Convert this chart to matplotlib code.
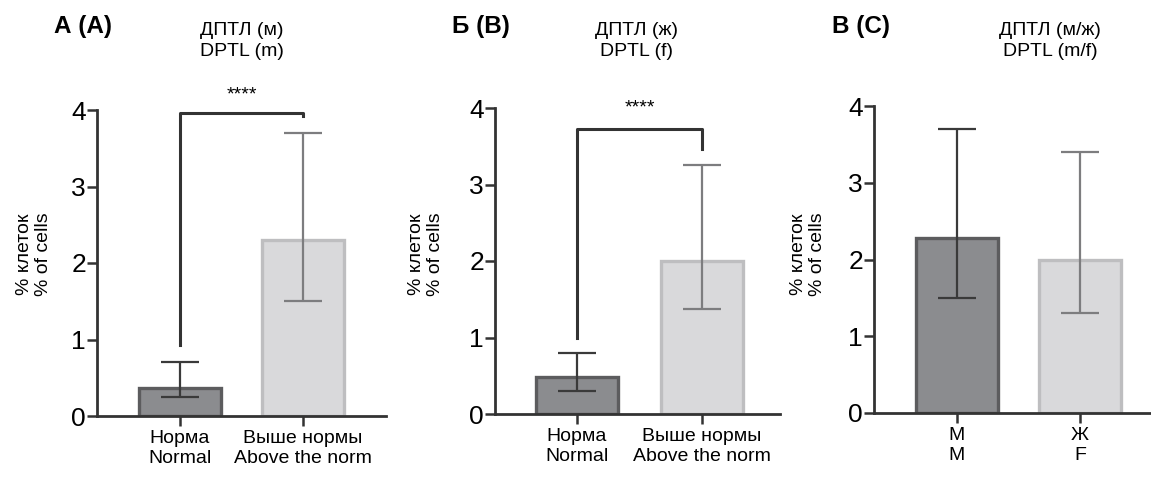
import matplotlib
matplotlib.use('Agg')
from matplotlib import pyplot as plt

plt.rcParams['font.family'] = ['Liberation Sans', 'DejaVu Sans']

# data
labels_ab = ['Норма\nNormal', 'Выше нормы\nAbove the norm']
labels_c = ['М\nM', 'Ж\nF']

means_a = [0.37, 2.30]
lo_a = [0.25, 1.50]
hi_a = [0.70, 3.70]

means_b = [0.49, 2.00]
lo_b = [0.30, 1.37]
hi_b = [0.80, 3.25]

means_c = [2.28, 2.00]
lo_c = [1.50, 1.30]
hi_c = [3.70, 3.40]

bracket_a = [0.93, 3.96, 3.92]   # left foot, top, right foot
bracket_b = [1.00, 3.72, 3.47]

W, H = 1151, 479
fig = plt.figure(figsize=(W / 100, H / 100), dpi=100)

FILL = ['#8b8c8f', '#d9d9db']
EDGE = ['#5c5c5e', '#bebec0']
ERR = ['#3a3a3a', '#7d7d7f']
AX = '#333333'


def px_axes(left, right, top, bottom):
    return fig.add_axes([left / W, 1 - bottom / H, (right - left) / W, (bottom - top) / H])


def panel(ax, means, lo, hi, labels, x0, x1, left, right, tag, title, tag_x, title_x, ylab_x):
    pos = [0, 1]
    step = x1 - x0
    ax.set_xlim(-(x0 - left) / step, 1 + (right - x1) / step)
    ax.set_ylim(0, 4)
    ax.bar(pos, means, width=0.66, color=FILL, edgecolor=EDGE, linewidth=2.4, zorder=2)
    for i in pos:
        ax.errorbar(i, means[i], yerr=[[means[i] - lo[i]], [hi[i] - means[i]]],
                    fmt='none', ecolor=ERR[i], elinewidth=1.6, capsize=14,
                    capthick=1.6, zorder=3)
    ax.set_yticks([0, 1, 2, 3, 4])
    ax.set_xticks(pos)
    ax.set_xticklabels(labels, fontsize=14, linespacing=1.25)
    ax.tick_params(axis='y', labelsize=19, length=7, width=1.8, color=AX, pad=1)
    ax.tick_params(axis='x', length=7, width=1.8, color=AX, pad=3)
    for s in ['top', 'right']:
        ax.spines[s].set_visible(False)
    for s in ['left', 'bottom']:
        ax.spines[s].set_linewidth(2.0)
        ax.spines[s].set_color(AX)
    fig.text(ylab_x / W, 0.47, '% клеток\n% of cells', rotation=90,
             ha='center', va='center', fontsize=14, linespacing=1.2)
    fig.text(tag_x / W, 1 - 27 / H, tag, fontsize=17.5, fontweight='bold',
             ha='left', va='center')
    fig.text(title_x / W, 1 - 41 / H, title, fontsize=14, ha='center',
             va='center', linespacing=1.25)


ax_a = px_axes(97, 386, 110, 416)
panel(ax_a, means_a, lo_a, hi_a, labels_ab, 180, 303, 97, 386,
      'А (А)', 'ДПТЛ (м)\nDPTL (m)', 54, 242, 34)
ax_a.plot([0, 0, 1, 1], [bracket_a[0], bracket_a[1], bracket_a[1], bracket_a[2]],
          color=AX, lw=2.2, clip_on=False, zorder=4)
ax_a.text(0.5, 4.2, '****', ha='center', va='center', fontsize=14)

ax_b = px_axes(495, 780, 108, 414)
panel(ax_b, means_b, lo_b, hi_b, labels_ab, 577, 702, 495, 780,
      'Б (В)', 'ДПТЛ (ж)\nDPTL (f)', 452, 637, 426)
ax_b.plot([0, 0, 1, 1], [bracket_b[0], bracket_b[1], bracket_b[1], bracket_b[2]],
          color=AX, lw=2.2, clip_on=False, zorder=4)
ax_b.text(0.5, 4.0, '****', ha='center', va='center', fontsize=14)

ax_c = px_axes(874, 1151, 106, 413)
panel(ax_c, means_c, lo_c, hi_c, labels_c, 957, 1080, 874, 1151,
      'В (С)', 'ДПТЛ (м/ж)\nDPTL (m/f)', 832, 1050, 808)

fig.savefig('out.png', dpi=100)
